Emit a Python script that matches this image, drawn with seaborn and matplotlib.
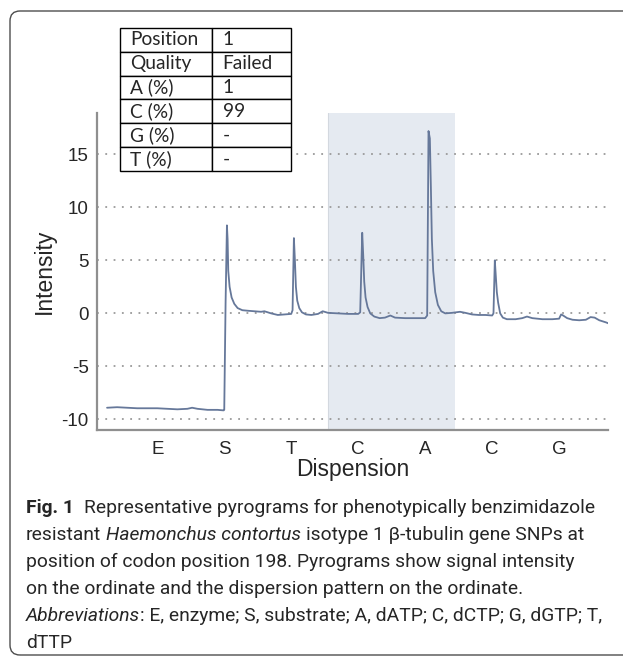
import numpy as np
import pandas as pd
import matplotlib
matplotlib.use("Agg")
import matplotlib.pyplot as plt
import matplotlib.patches as mpatches
import seaborn as sns

# dispensation order on the x axis (E=1 ... G=7)
dispensation = ["E", "S", "T", "C", "A", "C", "G"]

# pyrogram trace
trace_x = [0.25, 0.4, 0.55, 0.7, 0.85, 1.0, 1.15, 1.3, 1.45, 1.52, 1.6, 1.75, 1.9, 1.99,
           2.0, 2.02, 2.04, 2.05, 2.06, 2.08, 2.11, 2.15, 2.2, 2.27, 2.35, 2.45, 2.55, 2.6,
           2.7, 2.8, 2.9, 3.0,
           3.02, 3.04, 3.055, 3.07, 3.09, 3.12, 3.16, 3.22, 3.3, 3.4, 3.47, 3.55, 3.7, 3.85,
           4.0, 4.03,
           4.06, 4.075, 4.09, 4.11, 4.14, 4.18, 4.24, 4.32, 4.4, 4.48, 4.55, 4.7, 4.85, 5.0,
           5.03,
           5.05, 5.07, 5.085, 5.1, 5.12, 5.15, 5.19, 5.24, 5.3, 5.4, 5.52, 5.6, 5.7, 5.8,
           5.9, 6.0, 6.02,
           6.04, 6.055, 6.07, 6.09, 6.12, 6.16, 6.22, 6.35, 6.45, 6.52, 6.6, 6.75, 6.9, 7.0,
           7.03, 7.06, 7.12, 7.2, 7.3, 7.4, 7.47, 7.53, 7.6, 7.7, 7.74]
trace_y = [-8.9, -8.85, -8.9, -8.95, -8.95, -8.95, -9.0, -9.05, -9.0, -8.9, -9.0, -9.1, -9.1, -9.15,
           -9.1, 1.0, 8.3, 7.0, 4.0, 2.5, 1.5, 0.9, 0.5, 0.3, 0.25, 0.2, 0.15, 0.2,
           0.0, -0.15, -0.1, -0.05,
           0.3, 7.1, 5.0, 2.5, 1.2, 0.5, 0.1, -0.1, -0.15, -0.05, 0.2, 0.05, 0.0, -0.05,
           -0.05, 0.1,
           7.6, 5.5, 3.0, 1.5, 0.6, 0.0, -0.3, -0.45, -0.4, -0.2, -0.4, -0.45, -0.45, -0.45,
           -0.2,
           17.2, 16.5, 12.0, 7.0, 4.0, 2.0, 0.8, 0.2, 0.0, 0.05, 0.15, 0.05, -0.1, -0.15,
           -0.15, -0.2, 0.0,
           5.0, 3.5, 2.0, 1.0, 0.0, -0.4, -0.55, -0.55, -0.45, -0.3, -0.45, -0.55, -0.55, -0.5,
           -0.1, -0.2, -0.45, -0.6, -0.65, -0.6, -0.35, -0.4, -0.65, -0.85, -0.95]

# shaded dispensation window
window = (3.55, 5.45)

# result table
table_labels = ["Position", "Quality", "A (%)", "C (%)", "G (%)", "T (%)"]
table_values = ["1", "Failed", "1", "99", "-", "-"]

caption = [
    [("Fig. 1", "bold", 0), ("Representative pyrograms for phenotypically benzimidazole", "normal", 2)],
    [("resistant", "normal", 0), ("Haemonchus contortus", "italic", 1),
     ("isotype 1 β-tubulin gene SNPs at", "normal", 1)],
    [("position of codon position 198. Pyrograms show signal intensity", "normal", 0)],
    [("on the ordinate and the dispersion pattern on the ordinate.", "normal", 0)],
    [("Abbreviations", "italic", 0), (": E, enzyme; S, substrate; A, dATP; C, dCTP; G, dGTP; T,", "normal", 0)],
    [("dTTP", "normal", 0)],
]

df = pd.DataFrame({"x": trace_x, "y": trace_y})

sns.set_style("white")
plt.rcParams["font.family"] = ["Liberation Sans", "DejaVu Sans"]

W, H = 623, 657
fig = plt.figure(figsize=(W / 100, H / 100), dpi=100)

# rounded frame around the figure
frame = mpatches.FancyBboxPatch((0.10, 0.02), 6.30, 6.44,
                                boxstyle="round,pad=0,rounding_size=0.1",
                                transform=fig.dpi_scale_trans, fill=False,
                                edgecolor="#4d4d4d", linewidth=1.0)
fig.add_artist(frame)

ax = fig.add_axes([97 / W, 1 - 430 / H, (608 - 97) / W, (430 - 113) / H])
ax.axvspan(window[0], window[1], color="#e5eaf1", zorder=0, lw=0)
ax.axvline(window[0], color="#d3d8df", lw=0.8, zorder=0.1)
sns.lineplot(data=df, x="x", y="y", ax=ax, color="#66789a", linewidth=1.3,
             estimator=None, sort=False)

ax.set_xlim(0.1, 7.73)
ax.set_ylim(-11, 18.9)
ax.set_yticks([-10, -5, 0, 5, 10, 15])
ax.set_yticklabels(["-10", "-5", "0", "5", "10", "15"])
ax.set_xticks(range(1, len(dispensation) + 1))
ax.set_xticklabels(dispensation)
ax.yaxis.grid(True, linestyle=(0, (1.0, 3.6)), color="#9a9a9a", linewidth=1.3)
ax.xaxis.grid(False)
ax.set_axisbelow(True)
for side in ["top", "right"]:
    ax.spines[side].set_visible(False)
for side in ["left", "bottom"]:
    ax.spines[side].set_color("#8f8f8f")
    ax.spines[side].set_linewidth(1.6)
ax.tick_params(axis="x", direction="in", length=4, width=1.2, color="#8f8f8f",
               pad=8, labelsize=13.5)
ax.tick_params(axis="y", length=0, pad=6, labelsize=13.5)
ax.set_xlabel("Dispension", fontsize=16.5, labelpad=0)
ax.set_ylabel("Intensity", fontsize=16.5, labelpad=4)

# result table on top of the plot
tax = fig.add_axes([120 / W, 1 - 171 / H, 171 / W, 143 / H], zorder=5)
tax.axis("off")
tbl = tax.table(cellText=[[a, b] for a, b in zip(table_labels, table_values)],
                colWidths=[0.54, 0.46], bbox=[0, 0, 1, 1], cellLoc="left")
tbl.auto_set_font_size(False)
for (r, c), cell in tbl.get_celld().items():
    cell.set_edgecolor("black")
    cell.set_linewidth(1.0)
    cell.set_facecolor("white")
    cell.set_text_props(fontfamily=["Lato", "DejaVu Sans"], fontsize=13.8)
    cell.PAD = 0.11 if c == 0 else 0.13

# caption, pieces chained along each line
cap_size = 13.85
cap_family = ["Roboto", "DejaVu Sans"]
space_pt = 0.25 * cap_size
baselines = [513, 540, 567, 594, 621, 648]
for line, yb in zip(caption, baselines):
    prev = None
    for text, style, gap in line:
        kw = dict(fontsize=cap_size, fontfamily=cap_family, color="#262626",
                  fontweight="bold" if style == "bold" else "normal",
                  fontstyle="italic" if style == "italic" else "normal")
        if prev is None:
            prev = fig.text(26 / W, 1 - yb / H, text, va="baseline", ha="left", **kw)
        else:
            prev = fig.add_artist(matplotlib.text.Annotation(
                text, xy=(1, 0), xycoords=prev, xytext=(gap * space_pt, 0),
                textcoords="offset points", va="bottom", ha="left", **kw))

fig.savefig("out.png", dpi=100)
